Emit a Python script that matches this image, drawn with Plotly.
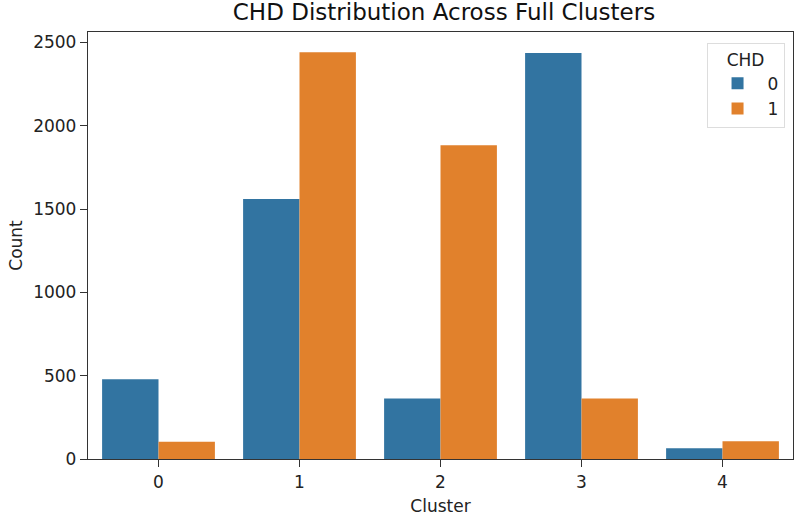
import plotly.graph_objects as go

clusters = [0, 1, 2, 3, 4]
chd0 = [479, 1560, 363, 2436, 64]
chd1 = [104, 2440, 1883, 363, 106]
tick_labels = ["0", "1", "2", "3", "4"]

fig = go.Figure()
fig.add_trace(go.Bar(x=clusters, y=chd0, name="0", marker=dict(color="#3274a1", line=dict(color="#3274a1", width=0))))
fig.add_trace(go.Bar(x=clusters, y=chd1, name="1", marker=dict(color="#e1812c", line=dict(color="#e1812c", width=0))))

font = "DejaVu Sans, Arial, sans-serif"
fig.update_layout(
    width=798, height=516,
    margin=dict(l=88, r=5, t=32, b=57, autoexpand=False),
    paper_bgcolor="white", plot_bgcolor="white",
    barmode="group", bargap=0.2, bargroupgap=0,
    font=dict(family=font, size=17, color="#222"),
    title=dict(text="CHD Distribution Across Full Clusters", x=0.505, xanchor="center",
               xref="paper", y=0.976, yanchor="middle", font=dict(size=23, family=font, color="#111")),
    xaxis=dict(tickvals=clusters, ticktext=tick_labels, range=[-0.5, 4.5], automargin=False,
               showline=True, mirror=True, linecolor="#333", linewidth=1.3,
               ticks="outside", ticklen=7, tickcolor="#333", showgrid=False, zeroline=False,
               title=dict(text="Cluster", standoff=10, font=dict(size=17)), tickfont=dict(size=17)),
    yaxis=dict(range=[0, 2562], tickvals=[0, 500, 1000, 1500, 2000, 2500], automargin=False,
               showline=True, mirror=True, linecolor="#333", linewidth=1.3,
               ticks="outside", ticklen=7, tickcolor="#333", showgrid=False, zeroline=False,
               title=dict(text="Count", standoff=6, font=dict(size=17)), tickfont=dict(size=17)),
    legend=dict(x=0.988, y=0.975, xanchor="right", yanchor="top",
                bgcolor="rgba(255,255,255,0.8)", bordercolor="#ddd", borderwidth=1,
                title=dict(text="CHD", side="top center", font=dict(size=17)),
                font=dict(size=17), itemwidth=50, tracegroupgap=4),
)
fig.write_html("out.html", config={"displayModeBar": False})

with open("out.html", "r", encoding="utf-8") as f:
    html = f.read()
html = html.replace("<body>", '<body style="margin:0;padding:0;overflow:hidden">', 1)
with open("out.html", "w", encoding="utf-8") as f:
    f.write(html)
